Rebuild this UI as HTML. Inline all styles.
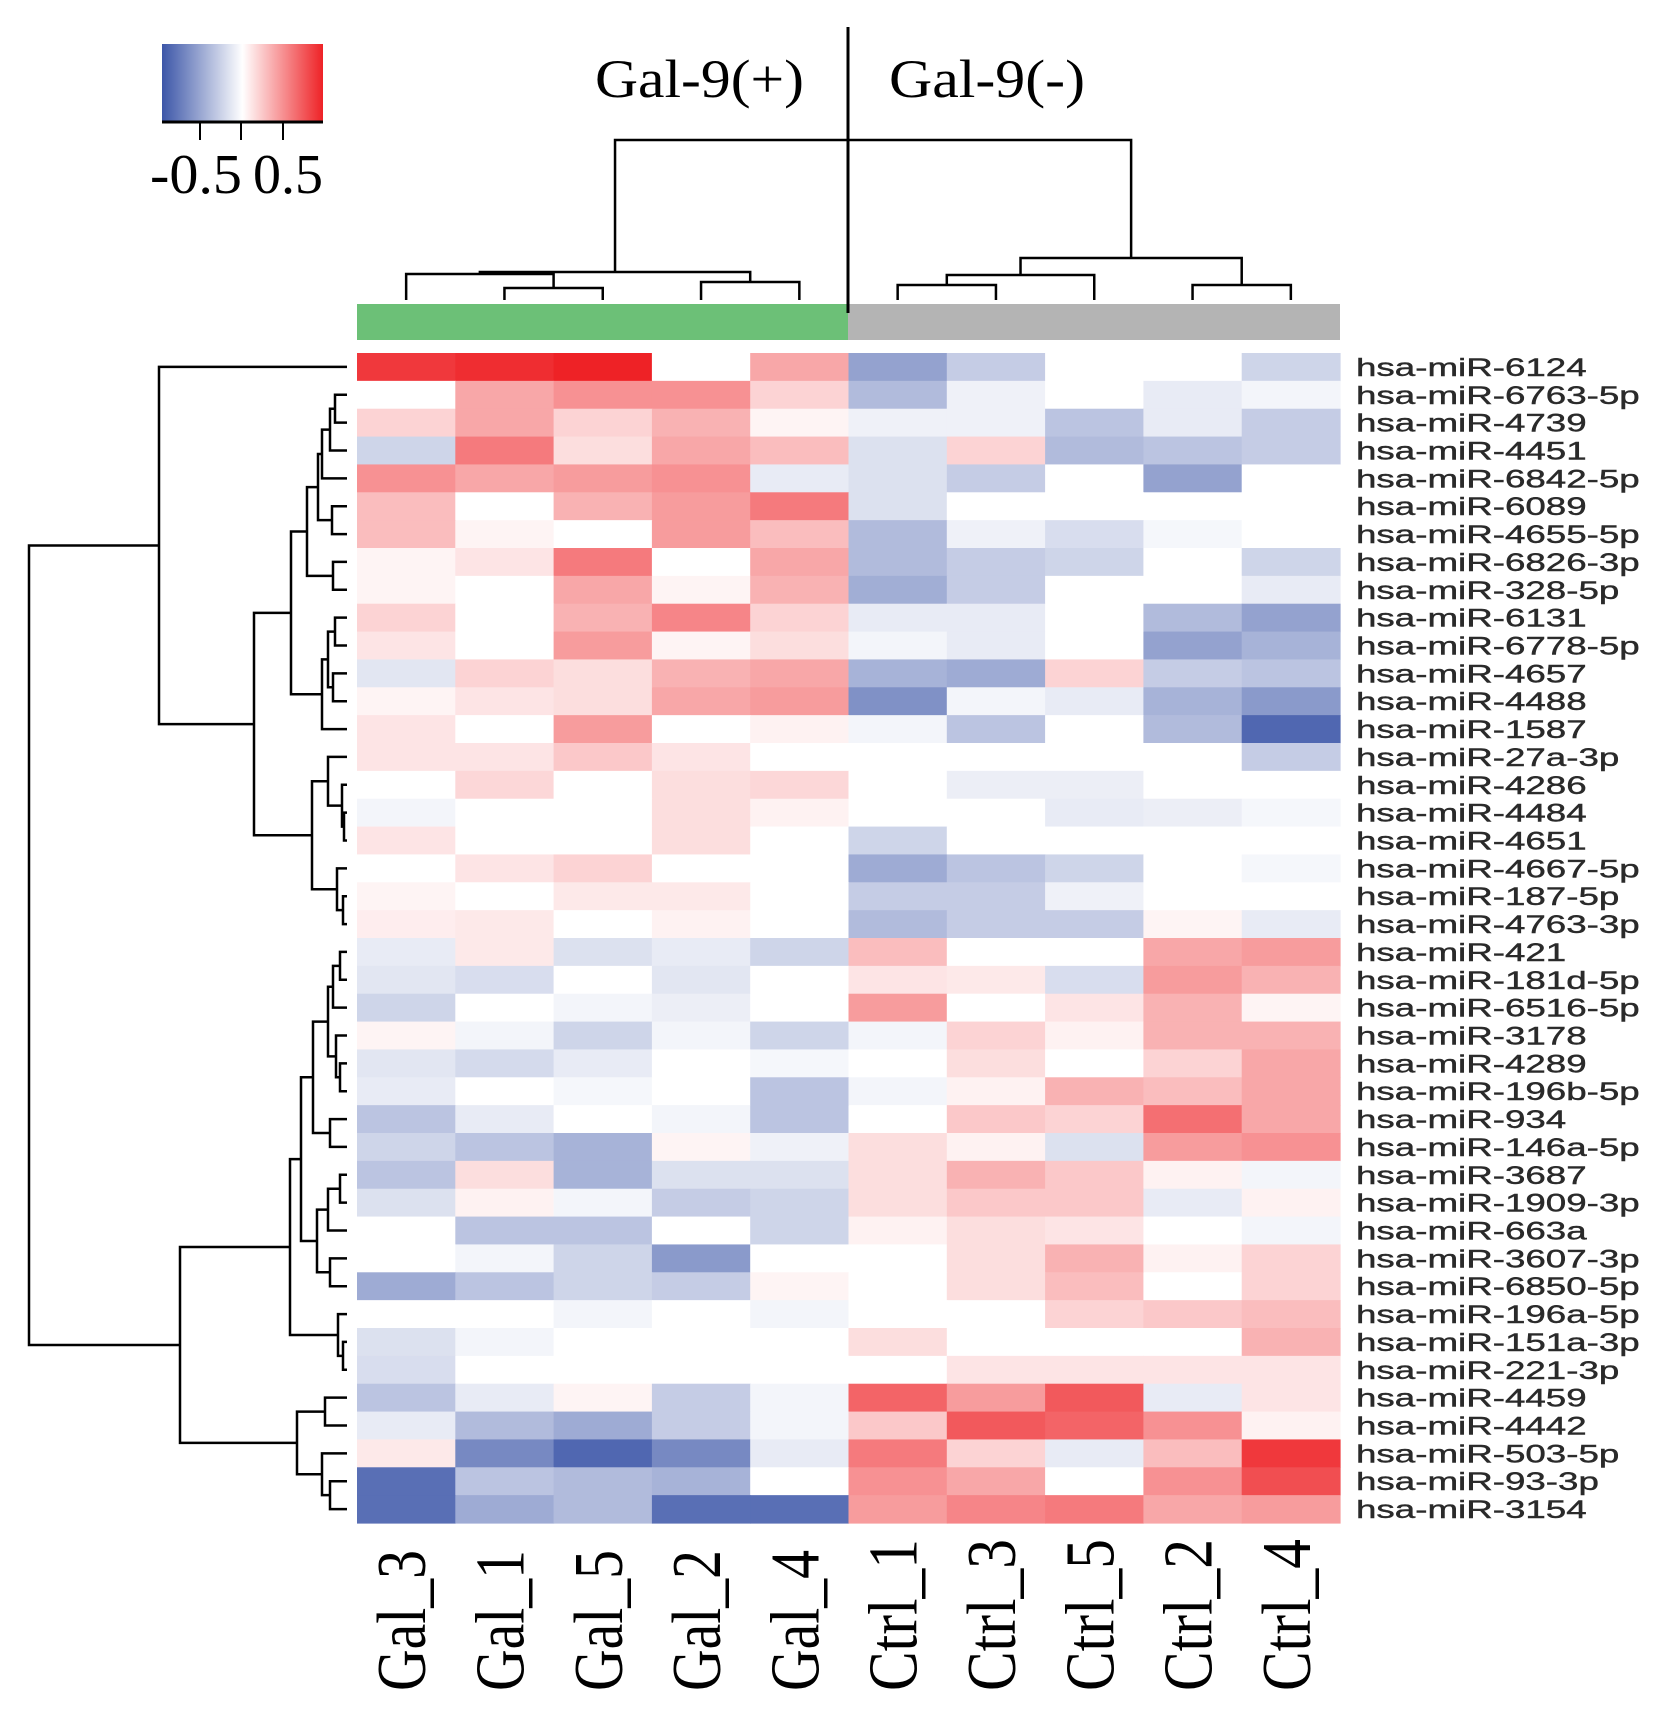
<!DOCTYPE html>
<html><head><meta charset="utf-8"><style>
html,body{margin:0;padding:0;background:#fff;}
svg{display:block;}
</style></head>
<body>
<svg id="chart" width="1677" height="1722" viewBox="0 0 1677 1722" xmlns="http://www.w3.org/2000/svg">
  <defs>
    <linearGradient id="cg" x1="0" x2="1" y1="0" y2="0">
      <stop offset="0" stop-color="#3c56a8"/>
      <stop offset="0.5" stop-color="#ffffff"/>
      <stop offset="1" stop-color="#ee2226"/>
    </linearGradient>
  </defs>
  <g>
    <rect x="162" y="44" width="161" height="78" fill="url(#cg)"/>
    <line x1="162" y1="122" x2="323" y2="122" stroke="#000" stroke-width="3"/>
    <line x1="200" y1="122" x2="200" y2="140" stroke="#000" stroke-width="2"/>
    <line x1="241" y1="122" x2="241" y2="140" stroke="#000" stroke-width="2"/>
    <line x1="283" y1="122" x2="283" y2="140" stroke="#000" stroke-width="2"/>
    <text x="150" y="193" font-family="Liberation Serif, serif" font-size="56" textLength="92" lengthAdjust="spacingAndGlyphs">-0.5</text>
    <text x="253" y="193" font-family="Liberation Serif, serif" font-size="56" textLength="70" lengthAdjust="spacingAndGlyphs">0.5</text>
  </g>
  <text x="595" y="97" font-family="Liberation Serif, serif" font-size="54" textLength="209" lengthAdjust="spacingAndGlyphs">Gal-9(+)</text>
  <text x="889" y="97" font-family="Liberation Serif, serif" font-size="54" textLength="196" lengthAdjust="spacingAndGlyphs">Gal-9(-)</text>
  <rect x="357" y="304" width="491" height="36" fill="#6cc077"/>
  <rect x="848" y="304" width="492" height="36" fill="#b4b4b4"/>
  <g id="cells"></g>
  <g id="coldendro"></g>
  <g id="rowdendro"></g>
  <g id="rowlabels"></g>
  <g id="collabels"></g>
  <line x1="848" y1="27" x2="848" y2="313" stroke="#000" stroke-width="3"/>
</svg>
<script>
const columns = ["Gal_3","Gal_1","Gal_5","Gal_2","Gal_4","Ctrl_1","Ctrl_3","Ctrl_5","Ctrl_2","Ctrl_4"];
const rows = ["hsa-miR-6124","hsa-miR-6763-5p","hsa-miR-4739","hsa-miR-4451","hsa-miR-6842-5p","hsa-miR-6089","hsa-miR-4655-5p","hsa-miR-6826-3p","hsa-miR-328-5p","hsa-miR-6131","hsa-miR-6778-5p","hsa-miR-4657","hsa-miR-4488","hsa-miR-1587","hsa-miR-27a-3p","hsa-miR-4286","hsa-miR-4484","hsa-miR-4651","hsa-miR-4667-5p","hsa-miR-187-5p","hsa-miR-4763-3p","hsa-miR-421","hsa-miR-181d-5p","hsa-miR-6516-5p","hsa-miR-3178","hsa-miR-4289","hsa-miR-196b-5p","hsa-miR-934","hsa-miR-146a-5p","hsa-miR-3687","hsa-miR-1909-3p","hsa-miR-663a","hsa-miR-3607-3p","hsa-miR-6850-5p","hsa-miR-196a-5p","hsa-miR-151a-3p","hsa-miR-221-3p","hsa-miR-4459","hsa-miR-4442","hsa-miR-503-5p","hsa-miR-93-3p","hsa-miR-3154"];
const values = [
[0.9,0.95,1.0,0,0.4,-0.55,-0.3,0,0,-0.25],
[0,0.4,0.5,0.5,0.2,-0.4,-0.08,0,-0.12,-0.06],
[0.2,0.4,0.2,0.35,0.05,-0.08,-0.08,-0.35,-0.12,-0.3],
[-0.25,0.6,0.15,0.4,0.3,-0.18,0.2,-0.4,-0.35,-0.3],
[0.5,0.4,0.45,0.5,-0.12,-0.18,-0.3,0,-0.55,0],
[0.3,0,0.35,0.45,0.6,-0.18,0,0,0,0],
[0.3,0.05,0,0.45,0.3,-0.4,-0.08,-0.2,-0.05,0],
[0.05,0.12,0.6,0,0.4,-0.4,-0.3,-0.25,0,-0.25],
[0.05,0,0.4,0.05,0.35,-0.48,-0.3,0,0,-0.12],
[0.2,0,0.35,0.55,0.2,-0.12,-0.12,0,-0.4,-0.55],
[0.12,0,0.45,0.05,0.15,-0.06,-0.12,0,-0.55,-0.45],
[-0.15,0.2,0.15,0.35,0.4,-0.45,-0.5,0.2,-0.3,-0.35],
[0.05,0.12,0.15,0.4,0.45,-0.65,-0.06,-0.12,-0.45,-0.6],
[0.12,0,0.45,0,0.06,-0.06,-0.35,0,-0.4,-0.9],
[0.12,0.12,0.25,0.12,0,0,0,0,0,-0.3],
[0,0.18,0,0.15,0.18,0,-0.1,-0.1,0,0],
[-0.06,0,0,0.15,0.06,0,0,-0.12,-0.1,-0.05],
[0.12,0,0,0.15,0,-0.25,0,0,0,0],
[0,0.12,0.2,0,0,-0.5,-0.35,-0.25,0,-0.05],
[0.05,0,0.1,0.1,0,-0.3,-0.3,-0.08,0,0],
[0.08,0.1,0,0.06,0,-0.4,-0.3,-0.3,0.05,-0.12],
[-0.12,0.1,-0.18,-0.12,-0.25,0.3,0,0,0.4,0.45],
[-0.15,-0.2,0,-0.15,0,0.12,0.1,-0.2,0.45,0.35],
[-0.25,0,-0.06,-0.1,0,0.45,0,0.12,0.35,0.05],
[0.05,-0.06,-0.25,-0.06,-0.25,-0.06,0.2,0.06,0.35,0.35],
[-0.15,-0.22,-0.12,0,-0.05,0,0.15,0,0.2,0.4],
[-0.12,0,-0.05,0,-0.35,-0.06,0.06,0.35,0.3,0.4],
[-0.35,-0.12,0,-0.06,-0.35,0,0.25,0.2,0.65,0.4],
[-0.25,-0.35,-0.45,0.05,-0.08,0.15,0.06,-0.18,0.45,0.5],
[-0.35,0.15,-0.45,-0.18,-0.18,0.15,0.35,0.25,0.06,-0.06],
[-0.18,0.06,-0.06,-0.3,-0.25,0.15,0.25,0.25,-0.12,0.06],
[0,-0.35,-0.35,0,-0.25,0.06,0.15,0.12,0,-0.06],
[0,-0.06,-0.25,-0.6,0,0,0.15,0.35,0.06,0.2],
[-0.5,-0.35,-0.25,-0.3,0.05,0,0.15,0.3,0,0.2],
[0,0,-0.06,0,-0.06,0,0,0.2,0.25,0.3],
[-0.18,-0.06,0,0,0,0.15,0,0,0,0.35],
[-0.2,0,0,0,0,0,0.12,0.12,0.12,0.12],
[-0.35,-0.12,0.05,-0.3,-0.06,0.7,0.45,0.75,-0.12,0.12],
[-0.12,-0.4,-0.5,-0.3,-0.06,0.25,0.75,0.7,0.5,0.06],
[0.1,-0.7,-0.9,-0.7,-0.12,0.6,0.2,-0.12,0.3,0.9],
[-0.85,-0.35,-0.4,-0.45,0,0.5,0.4,0,0.5,0.8],
[-0.85,-0.5,-0.4,-0.85,-0.85,0.45,0.55,0.6,0.4,0.45]
];
const colMerges = [[1,2,288],[3,4,282],[0,"n0",274],["n2","n1",272],[5,6,285],["n4",7,275],[8,9,285],["n5","n6",258],["n3","n7",140]];
const rowMerges = [
[1,2,335],["n0",3,330],["n1",4,322],[5,6,332],["n2","n3",318],[7,8,333],["n4","n5",307],
[9,10,335],[11,12,333],["n7","n8",328],["n9",13,322],["n6","n10",291],
[16,17,344],[15,"n12",342],[14,"n13",328],[19,20,343],[18,"n15",337],["n14","n16",312],
["n11","n17",254],[0,"n18",159],
[21,22,340],["n20",23,333],[25,26,340],[24,"n22",336],["n21","n23",328],[27,28,330],["n24","n25",313],
[29,30,340],["n27",31,328],[32,33,330],["n28","n29",317],["n26","n30",301],
[35,36,343],[34,"n32",338],["n31","n33",290],
[37,38,325],[40,41,330],[39,"n36",322],["n35","n37",297],["n34","n38",180],
["n19","n39",29]
];

const NS = "http://www.w3.org/2000/svg";
const X0 = 357, X1 = 1340, Y0 = 353, Y1 = 1523;
const colW = (X1 - X0) / columns.length;
const rowH = (Y1 - Y0) / rows.length;
function xScale(c){ return X0 + c * colW; }
function yScale(r){ return Y0 + r * rowH; }
function color(v){
  const blue=[60,86,168], red=[238,34,38];
  const t=Math.min(1,Math.abs(v)); const e=v<0?blue:red;
  const c=e.map(ch=>Math.round(255+(ch-255)*t));
  return "rgb("+c.join(",")+")";
}
function mk(tag, attrs, parent){
  const el=document.createElementNS(NS,tag);
  for(const k in attrs) el.setAttribute(k,attrs[k]);
  parent.appendChild(el); return el;
}
const cells=document.getElementById("cells");
values.forEach((row,r)=>row.forEach((v,c)=>{
  const el=mk("rect",{x:xScale(c),y:yScale(r),width:colW+0.6,height:rowH+0.6,fill:color(v)},cells);
  
  
}));
const rl=document.getElementById("rowlabels");
rows.forEach((name,r)=>{
  const g=mk("g",{transform:"translate(1356,"+(yScale(r)+rowH/2+9)+") scale(1.47,1)"},rl);
  const t=mk("text",{x:0,y:0,"font-family":"Liberation Sans, sans-serif","font-size":"25",fill:"#2a2a2a",stroke:"#2a2a2a","stroke-width":"0.4"},g);
  t.textContent=name;
  
  
});
const cl=document.getElementById("collabels");
columns.forEach((name,c)=>{
  const cx=xScale(c)+colW/2+19;
  const t=mk("text",{x:0,y:0,transform:"translate("+cx+",1691) rotate(-90)","font-family":"Liberation Serif, serif","font-size":"70",textLength:(name.length===5?141:152),lengthAdjust:"spacingAndGlyphs"},cl);
  t.textContent=name;
  
  
});
const cd=document.getElementById("coldendro");
const cpos={};
columns.forEach((n,i)=>{cpos[i]={x:xScale(i)+colW/2,y:300};});
colMerges.forEach((m,i)=>{
  const a=cpos[m[0]], b=cpos[m[1]], h=m[2];
  const p=mk("path",{d:"M"+a.x+","+a.y+"V"+h+"H"+b.x+"V"+b.y,fill:"none",stroke:"#000","stroke-width":"2.5"},cd);
  
  
  cpos["n"+i]={x:(a.x+b.x)/2,y:h};
});
const rd=document.getElementById("rowdendro");
const rpos={};
rows.forEach((n,i)=>{rpos[i]={x:347,y:yScale(i)+rowH/2};});
rowMerges.forEach((m,i)=>{
  const a=rpos[m[0]], b=rpos[m[1]], h=m[2];
  const p=mk("path",{d:"M"+a.x+","+a.y+"H"+h+"V"+b.y+"H"+b.x,fill:"none",stroke:"#000","stroke-width":"2.5"},rd);
  
  
  rpos["n"+i]={x:h,y:(a.y+b.y)/2};
});
</script>
</body></html>
